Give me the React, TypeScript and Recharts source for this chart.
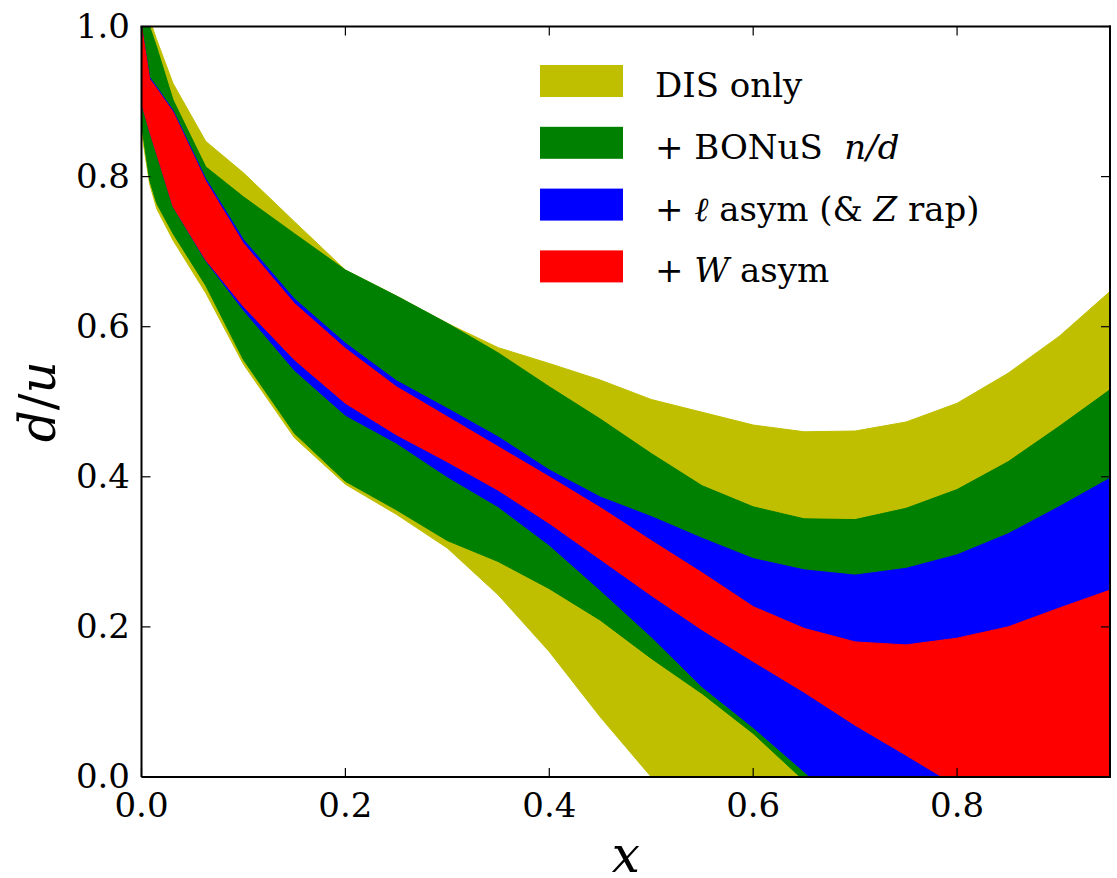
import { ComposedChart, Area, XAxis, YAxis, Legend } from "recharts";

const SERIF = "DejaVu Serif";

// x grid of the bands (fine spacing at small x)
const xs = [0, 0.008, 0.015, 0.031, 0.063, 0.1, 0.15, 0.2, 0.25, 0.3, 0.35, 0.4, 0.45, 0.5, 0.55, 0.6, 0.65, 0.7, 0.75, 0.8, 0.85, 0.9, 0.95];

// DIS only (yellow)
const disHigh = [1.05, 1.01, 0.982, 0.924, 0.847, 0.805, 0.74, 0.6755, 0.641, 0.6045, 0.572, 0.551, 0.529, 0.503, 0.486, 0.469, 0.46, 0.461, 0.473, 0.498, 0.538, 0.587, 0.647];
const disLow = [0.86, 0.79, 0.757, 0.715, 0.645, 0.55, 0.452, 0.39, 0.35, 0.305, 0.2425, 0.167, 0.08, 0.0, -0.09, -0.18, -0.27, -0.36, -0.45, -0.54, -0.63, -0.72, -0.81];

// + BONuS n/d (green)
const bonusHigh = [1.03, 1.0, 0.972, 0.902, 0.813, 0.773, 0.724, 0.6755, 0.641, 0.6045, 0.565, 0.52, 0.477, 0.431, 0.388, 0.36, 0.344, 0.343, 0.358, 0.383, 0.42, 0.467, 0.516];
const bonusLow = [0.87, 0.795, 0.764, 0.724, 0.655, 0.556, 0.458, 0.394, 0.356, 0.315, 0.287, 0.251, 0.209, 0.158, 0.111, 0.058, -0.005, -0.07, -0.13, -0.19, -0.25, -0.31, -0.37];

// + lepton asym (& Z rap) (blue)
const leptonHigh = [1.0, 0.932, 0.919, 0.888, 0.797, 0.716, 0.637, 0.578, 0.528, 0.491, 0.453, 0.409, 0.373, 0.347, 0.318, 0.291, 0.276, 0.269, 0.278, 0.296, 0.324, 0.36, 0.398];
const leptonLow = [0.898, 0.86, 0.83, 0.76, 0.688, 0.622, 0.542, 0.482, 0.445, 0.4, 0.36, 0.309, 0.249, 0.187, 0.12, 0.066, 0.007, -0.055, -0.115, -0.175, -0.235, -0.295, -0.355];

// + W asym (red)
const wHigh = [1.0, 0.93, 0.917, 0.886, 0.794, 0.711, 0.631, 0.571, 0.52, 0.48, 0.44, 0.4, 0.359, 0.315, 0.272, 0.227, 0.198, 0.18, 0.176, 0.185, 0.2, 0.225, 0.249];
const wLow = [0.898, 0.86, 0.83, 0.76, 0.689, 0.627, 0.556, 0.498, 0.456, 0.42, 0.382, 0.338, 0.29, 0.242, 0.196, 0.154, 0.113, 0.069, 0.029, -0.012, -0.05, -0.09, -0.13];

const xTicks = [0, 0.2, 0.4, 0.6, 0.8];
const yTicks = [0, 0.2, 0.4, 0.6, 0.8, 1.0];

const COLORS = {
  dis: "#bfbf00",
  bonus: "#008000",
  lepton: "#0000ff",
  w: "#ff0000",
};

// plot box in page pixels
const W = 1117;
const H = 878;
const PLOT_LEFT = 141.5;
const PLOT_TOP = 26.5;
const PLOT_RIGHT = 1110;
const PLOT_BOTTOM = 777;
const PLOT_W = PLOT_RIGHT - PLOT_LEFT;
const PLOT_H = PLOT_BOTTOM - PLOT_TOP;
const X_AXIS_H = 60;
const Y_AXIS_W = 80;
const TICK = 9;

type Part = { t: string; i?: boolean };

const legendRows: { color: string; parts: Part[] }[] = [
  { color: COLORS.dis, parts: [{ t: "DIS only" }] },
  { color: COLORS.bonus, parts: [{ t: "+ BONuS  " }, { t: "n/d", i: true }] },
  {
    color: COLORS.lepton,
    parts: [{ t: "+ " }, { t: "ℓ", i: true }, { t: " asym (& " }, { t: "Z", i: true }, { t: " rap)" }],
  },
  { color: COLORS.w, parts: [{ t: "+ " }, { t: "W", i: true }, { t: " asym" }] },
];

const data = xs.map((x, i) => ({
  x,
  dis: [disLow[i], disHigh[i]],
  bonus: [bonusLow[i], bonusHigh[i]],
  lepton: [leptonLow[i], leptonHigh[i]],
  w: [wLow[i], wHigh[i]],
}));

function renderLegend() {
  return (
    <svg width={500} height={230} style={{ display: "block" }}>
      {legendRows.map((row, idx) => (
        <g key={idx} transform={`translate(0, ${idx * 61.8})`}>
          <rect x={0} y={0} width={83} height={32} fill={row.color} />
          <text x={115} y={32} fontSize={34} fill="#000" style={{ whiteSpace: "pre", fontFamily: SERIF }}>
            {row.parts.map((p, j) => (
              <tspan key={j} fontStyle={p.i ? "italic" : "normal"}>
                {p.t}
              </tspan>
            ))}
          </text>
        </g>
      ))}
    </svg>
  );
}

// bottom tick: inward tick on the bottom and top spines + label
function XTick(props: any) {
  const { x, y, payload } = props;
  return (
    <g>
      <line x1={x} y1={y} x2={x} y2={y - TICK} stroke="#000" strokeWidth={1.2} />
      <line x1={x} y1={y - PLOT_H} x2={x} y2={y - PLOT_H + TICK} stroke="#000" strokeWidth={1.2} />
      <text x={x} y={y + 39.5} textAnchor="middle" fontSize={34} fill="#000" style={{ fontFamily: SERIF }}>
        {Number(payload.value).toFixed(1)}
      </text>
    </g>
  );
}

// left tick: inward tick on the left and right spines + label;
// the top tick also carries the top spine, the bottom one the right spine
function YTick(props: any) {
  const { x, y, payload } = props;
  const v = Number(payload.value);
  return (
    <g>
      <line x1={x} y1={y} x2={x + TICK} y2={y} stroke="#000" strokeWidth={1.2} />
      <line x1={x + PLOT_W} y1={y} x2={x + PLOT_W - TICK} y2={y} stroke="#000" strokeWidth={1.2} />
      {v === 1 && <line x1={x - 1} y1={y} x2={x + PLOT_W + 1} y2={y} stroke="#000" strokeWidth={2} />}
      {v === 0 && <line x1={x + PLOT_W} y1={y + 1} x2={x + PLOT_W} y2={y - PLOT_H - 1} stroke="#000" strokeWidth={2} />}
      <text x={x - 11.5} y={y + 11} textAnchor="end" fontSize={34} fill="#000" style={{ fontFamily: SERIF }}>
        {v.toFixed(1)}
      </text>
    </g>
  );
}

function YTitle(props: any) {
  const vb = props.viewBox;
  const cx = vb.x - 6.5;
  const cy = vb.y + vb.height / 2;
  return (
    <text
      x={cx}
      y={cy}
      transform={`rotate(-90 ${cx} ${cy})`}
      textAnchor="middle"
      fontSize={50}
      fill="#000"
      style={{ fontFamily: SERIF }}
    >
      <tspan fontStyle="italic">d</tspan>
      <tspan>/</tspan>
      <tspan fontStyle="italic">u</tspan>
    </text>
  );
}

function XTitle(props: any) {
  const vb = props.viewBox;
  return (
    <text
      x={vb.x + vb.width / 2}
      y={vb.y + 94.5}
      textAnchor="middle"
      fontSize={50}
      fontStyle="italic"
      fill="#000"
      style={{ fontFamily: SERIF }}
    >
      x
    </text>
  );
}

const axisLine = { stroke: "#000", strokeWidth: 2 };

function band(key: string, name: string, color: string) {
  return (
    <Area
      key={key}
      type="linear"
      dataKey={key}
      name={name}
      fill={color}
      fillOpacity={1}
      stroke={color}
      strokeWidth={1}
      dot={false}
      activeDot={false}
      isAnimationActive={false}
    />
  );
}

export default function App() {
  return (
    <div style={{ position: "absolute", left: 0, top: 0, width: W, height: H, background: "#fff" }}>
      <ComposedChart
        width={W}
        height={H}
        data={data}
        margin={{
          top: PLOT_TOP,
          right: W - PLOT_RIGHT,
          bottom: H - PLOT_BOTTOM - X_AXIS_H,
          left: PLOT_LEFT - Y_AXIS_W,
        }}
      >
        {band("dis", "DIS only", COLORS.dis)}
        {band("bonus", "+ BONuS n/d", COLORS.bonus)}
        {band("lepton", "+ l asym (& Z rap)", COLORS.lepton)}
        {band("w", "+ W asym", COLORS.w)}
        <XAxis
          dataKey="x"
          type="number"
          domain={[0, 0.95]}
          allowDataOverflow
          ticks={xTicks}
          interval={0}
          height={X_AXIS_H}
          tickSize={0}
          tickMargin={0}
          tickLine={false}
          axisLine={axisLine}
          tick={XTick}
          label={XTitle}
        />
        <YAxis
          type="number"
          domain={[0, 1]}
          allowDataOverflow
          ticks={yTicks}
          interval={0}
          width={Y_AXIS_W}
          tickSize={0}
          tickMargin={0}
          tickLine={false}
          axisLine={axisLine}
          tick={YTick}
          label={YTitle}
        />
        <Legend
          layout="vertical"
          align="center"
          verticalAlign="middle"
          content={renderLegend}
          wrapperStyle={{ left: 540, top: 65, width: 500, height: 230 }}
        />
      </ComposedChart>
    </div>
  );
}
